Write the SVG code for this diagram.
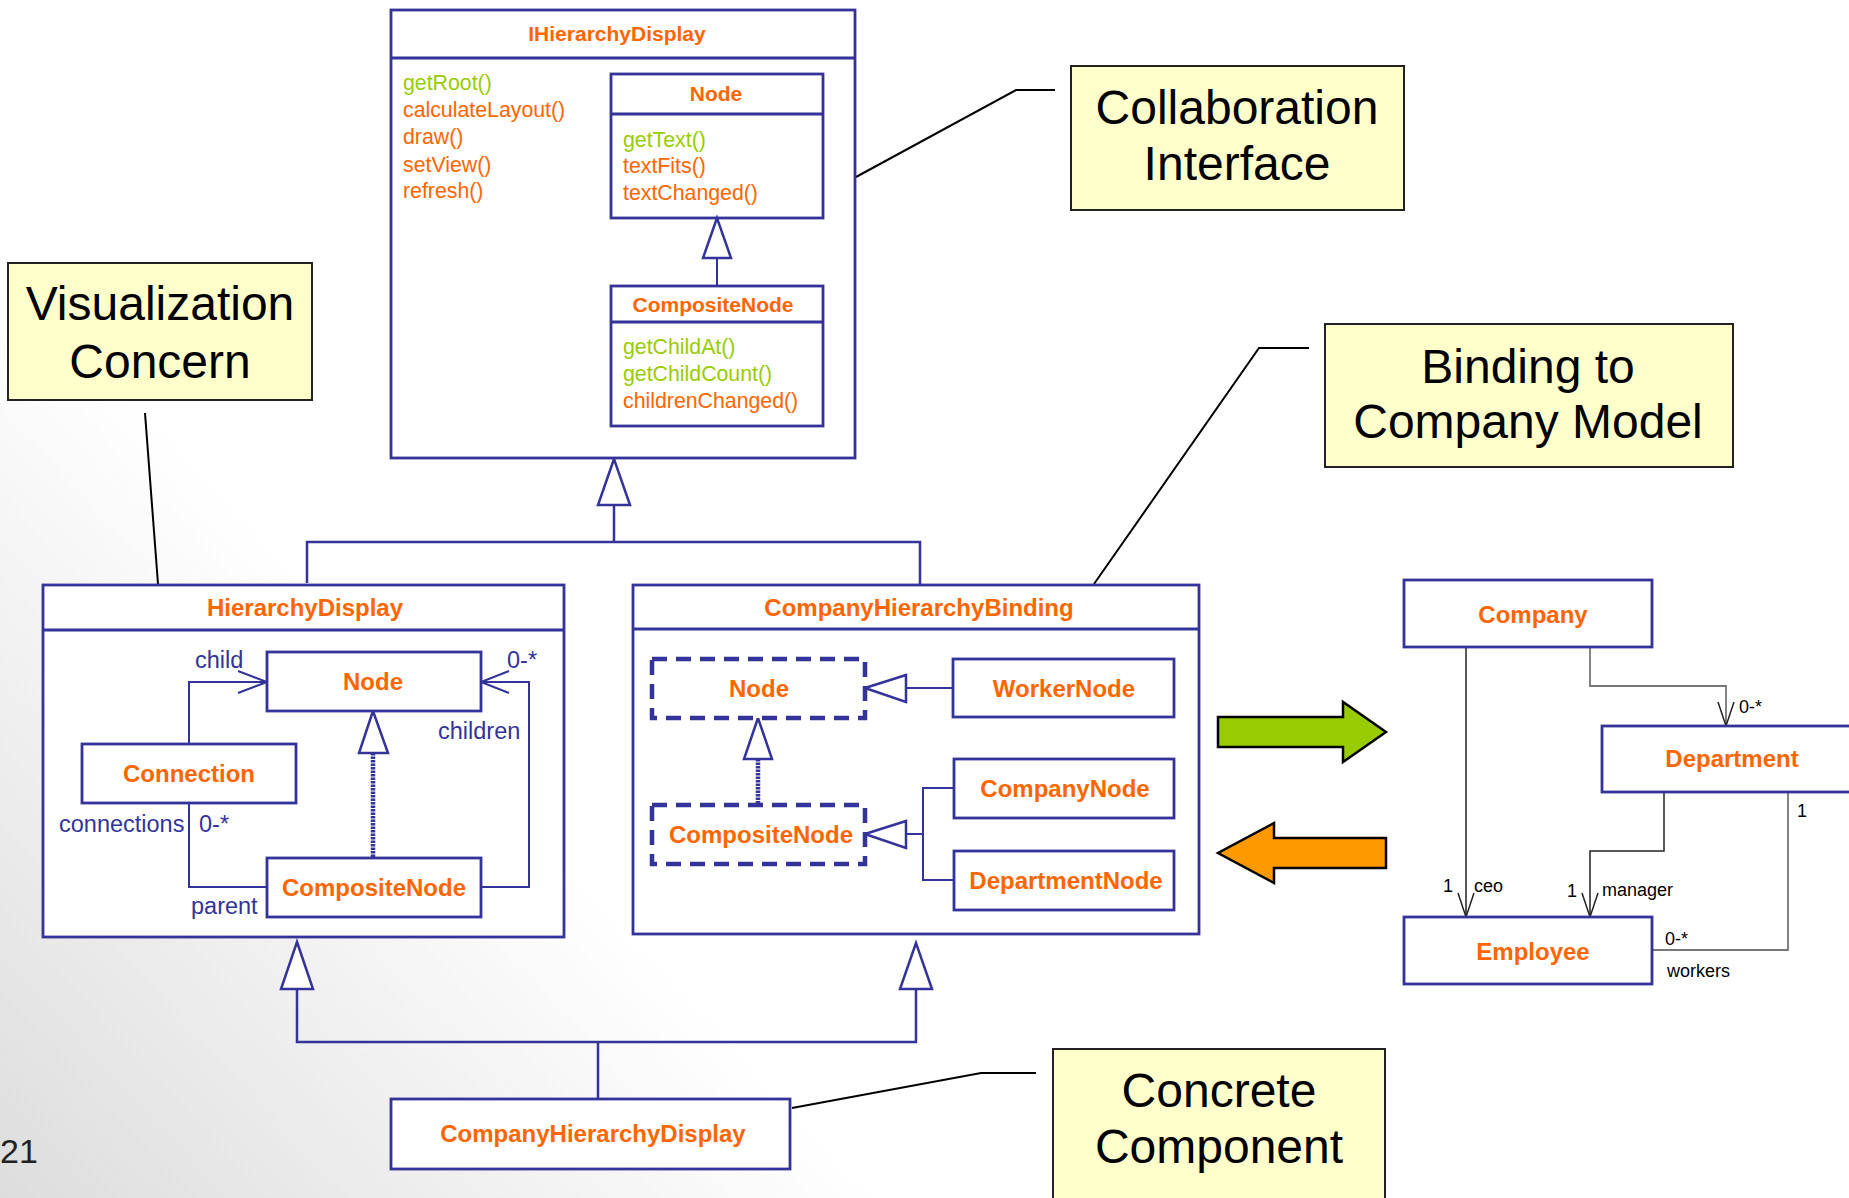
<svg xmlns="http://www.w3.org/2000/svg" width="1849" height="1198" viewBox="0 0 1849 1198">
<defs>
<linearGradient id="bg" gradientUnits="userSpaceOnUse" x1="0" y1="1198" x2="470" y2="760">
<stop offset="0" stop-color="#dddddd"/>
<stop offset="1" stop-color="#ffffff"/>
</linearGradient>
<style>
text{font-family:"Liberation Sans",Arial,Helvetica,sans-serif}
.box{fill:#fff;stroke:#333399;stroke-width:2.8}
.dbox{fill:#fff;stroke:#333399;stroke-width:4.5;stroke-dasharray:15 9}
.ln{fill:none;stroke:#333399;stroke-width:2.5}
.thin{fill:none;stroke:#333399;stroke-width:2}
.dot{fill:none;stroke:#333399;stroke-width:4.5;stroke-dasharray:2.5 1}
.tri{fill:#fff;stroke:#333399;stroke-width:2.5}
.ttl{font-weight:bold;fill:#FF6600;text-anchor:middle;font-size:24px}
.ttl21{font-weight:bold;fill:#FF6600;text-anchor:middle;font-size:21px}
.m{fill:#FF6600;font-size:21.3px}
.g{fill:#99CC00}
.lbl{fill:#333399;font-size:23.5px}
.note{fill:#FFFFCC;stroke:#222;stroke-width:2}
.nt{font-size:48px;fill:#000;text-anchor:middle}
.lead{fill:none;stroke:#000;stroke-width:2}
.cl{fill:none;stroke:#222;stroke-width:1.5}
.cg{fill:none;stroke:#777;stroke-width:1.8}
.cll{font-size:18px;fill:#000}
</style>
</defs>
<rect x="0" y="0" width="1849" height="1198" fill="url(#bg)"/>

<g id="connectors">
<polyline class="ln" points="307,583 307,542 920,542 920,584"/>
<line class="ln" x1="614" y1="505" x2="614" y2="542"/>
<polygon class="tri" points="614,459 598,505 630,505"/>
<polyline class="ln" points="297,989 297,1042 916,1042 916,989"/>
<line class="ln" x1="598" y1="1042" x2="598" y2="1098"/>
<polygon class="tri" points="297,942 281,989 313,989"/>
<polygon class="tri" points="916,943 900,989 932,989"/>
<polyline class="lead" points="145,413 158,584"/>
<polyline class="lead" points="856,177 1016,90 1055,90"/>
<polyline class="lead" points="1094,584 1259,348 1309,348"/>
<polyline class="lead" points="792,1108 981,1073 1036,1073"/>
<line class="cl" x1="1466" y1="647" x2="1466" y2="917"/>
<polyline class="cl" points="1458,893 1466,917 1474,893"/>
<polyline class="cg" points="1590,647 1590,686 1726,686 1726,726"/>
<polyline class="cl" points="1718,702 1726,726 1734,702"/>
<polyline class="cl" points="1664,792 1664,851 1590,851 1590,917"/>
<polyline class="cl" points="1582,893 1590,917 1598,893"/>
<polyline class="cg" points="1788,792 1788,950 1652,950"/>
</g>

<g id="note-visualization">
<rect class="note" x="8" y="263" width="304" height="137"/>
<text class="nt" x="160" y="320">Visualization</text>
<text class="nt" x="160" y="378">Concern</text>
</g>
<g id="note-collaboration">
<rect class="note" x="1071" y="66" width="333" height="144"/>
<text class="nt" x="1237" y="124">Collaboration</text>
<text class="nt" x="1237" y="180">Interface</text>
</g>
<g id="note-binding">
<rect class="note" x="1325" y="324" width="408" height="143"/>
<text class="nt" x="1528" y="383">Binding to</text>
<text class="nt" x="1528" y="438">Company Model</text>
</g>
<g id="note-concrete">
<rect class="note" x="1053" y="1049" width="332" height="200"/>
<text class="nt" x="1219" y="1107">Concrete</text>
<text class="nt" x="1219" y="1163">Component</text>
</g>

<g id="IHierarchyDisplay">
<rect class="box" x="391" y="10" width="464" height="448"/>
<line class="box" x1="391" y1="58" x2="855" y2="58"/>
<text class="ttl21" x="617" y="41">IHierarchyDisplay</text>
<text class="m g" x="403" y="90">getRoot()</text>
<text class="m" x="403" y="117">calculateLayout()</text>
<text class="m" x="403" y="144">draw()</text>
<text class="m" x="403" y="172">setView()</text>
<text class="m" x="403" y="198">refresh()</text>
<g id="IHD-Node">
<rect class="box" x="611" y="74" width="212" height="144"/>
<line class="box" x1="611" y1="114" x2="823" y2="114"/>
<text class="ttl21" x="716" y="101">Node</text>
<text class="m g" x="623" y="147">getText()</text>
<text class="m" x="623" y="173">textFits()</text>
<text class="m" x="623" y="200">textChanged()</text>
</g>
<line class="thin" x1="717" y1="258" x2="717" y2="286"/>
<polygon class="tri" points="717,218 703,258 731,258"/>
<g id="IHD-CompositeNode">
<rect class="box" x="611" y="286" width="212" height="140"/>
<line class="box" x1="611" y1="322" x2="823" y2="322"/>
<text class="ttl21" x="713" y="312">CompositeNode</text>
<text class="m g" x="623" y="354">getChildAt()</text>
<text class="m g" x="623" y="381">getChildCount()</text>
<text class="m" x="623" y="408">childrenChanged()</text>
</g>
</g>

<g id="HierarchyDisplay">
<rect class="box" x="43" y="585" width="521" height="352"/>
<line class="box" x1="43" y1="630" x2="564" y2="630"/>
<text class="ttl" x="305" y="616">HierarchyDisplay</text>
<g id="HD-connectors">
<polyline class="thin" points="189,744 189,682 266,682"/>
<polyline class="thin" points="238,671 267,682 238,693"/>
<polyline class="thin" points="189,803 189,887 267,887"/>
<polyline class="thin" points="481,887 529,887 529,682 482,682"/>
<polyline class="thin" points="509,671 481,682 509,693"/>
<line class="dot" x1="373" y1="753" x2="373" y2="858"/>
<polygon class="tri" points="373,711 359,753 388,753"/>
</g>
<g id="HD-Node">
<rect class="box" x="267" y="652" width="214" height="59"/>
<text class="ttl" x="373" y="690">Node</text>
</g>
<g id="HD-Connection">
<rect class="box" x="82" y="744" width="214" height="59"/>
<text class="ttl" x="189" y="782">Connection</text>
</g>
<g id="HD-CompositeNode">
<rect class="box" x="267" y="858" width="214" height="59"/>
<text class="ttl" x="374" y="896">CompositeNode</text>
</g>
<text class="lbl" x="195" y="668">child</text>
<text class="lbl" x="507" y="668">0-*</text>
<text class="lbl" x="438" y="739">children</text>
<text class="lbl" x="59" y="832">connections</text>
<text class="lbl" x="199" y="832">0-*</text>
<text class="lbl" x="191" y="914">parent</text>
</g>

<g id="CompanyHierarchyBinding">
<rect class="box" x="633" y="585" width="566" height="349"/>
<line class="box" x1="633" y1="629" x2="1199" y2="629"/>
<text class="ttl" x="919" y="616">CompanyHierarchyBinding</text>
<g id="CHB-connectors">
<line class="thin" x1="906" y1="688" x2="953" y2="688"/>
<polygon class="tri" points="865,688 906,675 906,702"/>
<line class="dot" x1="758" y1="759" x2="758" y2="805"/>
<polygon class="tri" points="758,718 744,759 772,759"/>
<polyline class="thin" points="954,788 923,788 923,880 954,880"/>
<line class="thin" x1="906" y1="834" x2="923" y2="834"/>
<polygon class="tri" points="865,834 906,821 906,848"/>
</g>
<g id="CHB-Node">
<rect class="dbox" x="652" y="659" width="213" height="59"/>
<text class="ttl" x="759" y="697">Node</text>
</g>
<g id="CHB-CompositeNode">
<rect class="dbox" x="652" y="805" width="213" height="59"/>
<text class="ttl" x="761" y="843">CompositeNode</text>
</g>
<g id="CHB-WorkerNode">
<rect class="box" x="953" y="659" width="221" height="58"/>
<text class="ttl" x="1064" y="697">WorkerNode</text>
</g>
<g id="CHB-CompanyNode">
<rect class="box" x="954" y="759" width="220" height="59"/>
<text class="ttl" x="1065" y="797">CompanyNode</text>
</g>
<g id="CHB-DepartmentNode">
<rect class="box" x="954" y="851" width="220" height="59"/>
<text class="ttl" x="1066" y="889">DepartmentNode</text>
</g>
</g>

<g id="CompanyHierarchyDisplay">
<rect class="box" x="391" y="1099" width="399" height="70"/>
<text class="ttl" x="593" y="1142">CompanyHierarchyDisplay</text>
</g>

<g id="arrow-green">
<polygon points="1218,717 1343,717 1343,702 1386,732 1343,762 1343,747 1218,747" fill="#99CC00" stroke="#000" stroke-width="2.5"/>
</g>
<g id="arrow-orange">
<polygon points="1386,838 1274,838 1274,823 1218,853 1274,883 1274,868 1386,868" fill="#FF9900" stroke="#000" stroke-width="2.5"/>
</g>

<g id="Company">
<rect class="box" x="1404" y="580" width="248" height="67"/>
<text class="ttl" x="1533" y="623">Company</text>
</g>
<g id="Department">
<rect class="box" x="1602" y="726" width="260" height="66"/>
<text class="ttl" x="1732" y="767">Department</text>
</g>
<g id="Employee">
<rect class="box" x="1404" y="917" width="248" height="67"/>
<text class="ttl" x="1533" y="960">Employee</text>
</g>
<g id="company-labels">
<text class="cll" x="1443" y="892">1</text>
<text class="cll" x="1474" y="892">ceo</text>
<text class="cll" x="1739" y="713">0-*</text>
<text class="cll" x="1567" y="897">1</text>
<text class="cll" x="1602" y="896">manager</text>
<text class="cll" x="1797" y="817">1</text>
<text class="cll" x="1665" y="945">0-*</text>
<text class="cll" x="1667" y="977">workers</text>
</g>

<text x="0" y="1163" font-size="34" fill="#222">21</text>
</svg>
